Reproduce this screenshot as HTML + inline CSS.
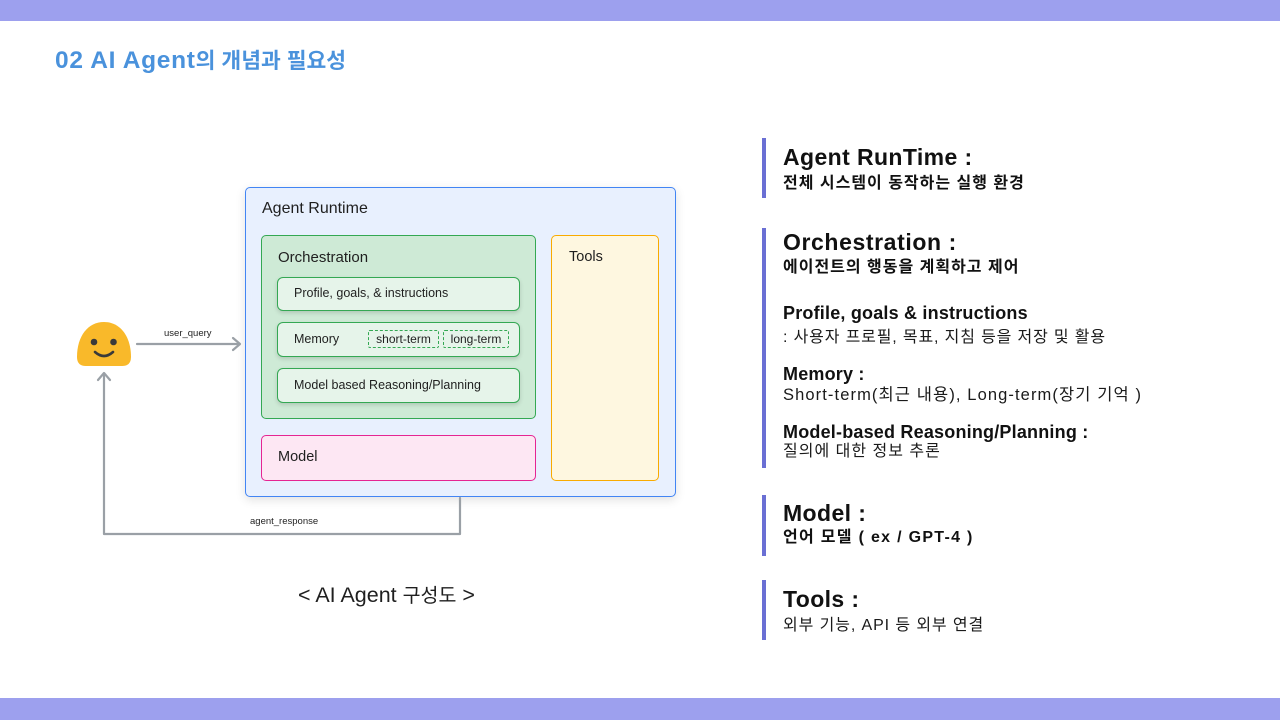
<!DOCTYPE html>
<html>
<head>
<meta charset="utf-8">
<style>
  html, body { margin:0; padding:0; }
  body { width:1280px; height:720px; position:relative; overflow:hidden; background:#ffffff;
         font-family:"Liberation Sans","Noto Sans CJK KR",sans-serif; }
  .abs { position:absolute; white-space:nowrap; line-height:1; }
  .box { position:absolute; box-sizing:border-box; }
  .bar { position:absolute; left:762px; width:4px; background:#6a6fd4; }
  .h1 { font-size:23px; font-weight:bold; letter-spacing:0.4px; color:#111; left:783px; }
  .sb { font-size:16px; font-weight:bold; color:#111; left:783px; letter-spacing:1px; }
  .h2 { font-size:18px; font-weight:bold; letter-spacing:0.2px; color:#111; left:783px; }
  .rg { font-size:16px; color:#1a1a1a; left:783px; letter-spacing:0.85px; }
  .dl { color:#1f1f1f; }
</style>
</head>
<body>
  <!-- top & bottom bars -->
  <div class="box" style="left:0;top:0;width:1280px;height:21px;background:#9da0ee;"></div>
  <div class="box" style="left:0;top:698px;width:1280px;height:22px;background:#9da0ee;"></div>

  <!-- title -->
  <div class="abs" style="left:55px;top:49px;font-size:21.5px;font-weight:bold;color:#4a92dc;"><span style="font-size:24.5px;letter-spacing:0.7px;">02 AI Agent</span>의 개념과 필요성</div>

  <!-- Diagram -->
  <div class="box" style="left:245px;top:187px;width:431px;height:310px;background:#e8f0fe;border:1.5px solid #4285f4;border-radius:5px;box-shadow:0 3px 10px rgba(0,0,0,0.12);"></div>
  <div class="abs dl" style="left:262px;top:201px;font-size:16px;">Agent Runtime</div>

  <div class="box" style="left:261px;top:235px;width:275px;height:184px;background:#ceead6;border:1.5px solid #34a853;border-radius:5px;"></div>
  <div class="abs dl" style="left:278px;top:250px;font-size:15px;">Orchestration</div>

  <div class="box" style="left:277px;top:277px;width:243px;height:34px;background:#e6f4ea;border:1.5px solid #34a853;border-radius:6px;box-shadow:0 2px 4px rgba(0,0,0,0.15);"></div>
  <div class="abs dl" style="left:294px;top:287px;font-size:12.5px;">Profile, goals, &amp; instructions</div>

  <div class="box" style="left:277px;top:322px;width:243px;height:35px;background:#e6f4ea;border:1.5px solid #34a853;border-radius:6px;box-shadow:0 2px 4px rgba(0,0,0,0.15);"></div>
  <div class="abs dl" style="left:294px;top:333px;font-size:12.5px;">Memory</div>
  <div class="box" style="left:368px;top:330px;width:71px;height:18px;border:1px dashed #34a853;border-radius:2px;"></div>
  <div class="abs dl" style="left:368px;top:333px;width:71px;text-align:center;font-size:12px;">short-term</div>
  <div class="box" style="left:443px;top:330px;width:66px;height:18px;border:1px dashed #34a853;border-radius:2px;"></div>
  <div class="abs dl" style="left:443px;top:333px;width:66px;text-align:center;font-size:12px;">long-term</div>

  <div class="box" style="left:277px;top:368px;width:243px;height:35px;background:#e6f4ea;border:1.5px solid #34a853;border-radius:6px;box-shadow:0 2px 4px rgba(0,0,0,0.15);"></div>
  <div class="abs dl" style="left:294px;top:379px;font-size:12.5px;">Model based Reasoning/Planning</div>

  <div class="box" style="left:261px;top:435px;width:275px;height:46px;background:#fde7f3;border:1.5px solid #e52592;border-radius:5px;"></div>
  <div class="abs dl" style="left:278px;top:450px;font-size:14.5px;">Model</div>

  <div class="box" style="left:551px;top:235px;width:108px;height:246px;background:#fef7e0;border:1.5px solid #f9ab00;border-radius:5px;"></div>
  <div class="abs dl" style="left:569px;top:250px;font-size:14.5px;">Tools</div>

  <!-- connectors and face -->
  <svg style="position:absolute;left:0;top:0;" width="1280" height="720" viewBox="0 0 1280 720">
    <g fill="none" stroke="#9aa0a6" stroke-width="2.2" stroke-linecap="round" stroke-linejoin="round">
      <line x1="137" y1="344" x2="239" y2="344"/>
      <polyline points="233,338 240,344 233,350"/>
      <polyline points="460,498 460,534 104,534 104,374"/>
      <polyline points="98,380 104,373 110,380"/>
    </g>
    <path d="M77,357 C77,336 88,322 104,322 C120,322 131,336 131,357 Q131,366 122,366 L86,366 Q77,366 77,357 Z" fill="#f9b92a"/>
    <circle cx="94" cy="342" r="3.3" fill="#3a3a3a"/>
    <circle cx="113.5" cy="342" r="3.3" fill="#3a3a3a"/>
    <path d="M95,352 Q104,360 113,352" fill="none" stroke="#3a3a3a" stroke-width="2.6" stroke-linecap="round"/>
  </svg>
  <div class="abs dl" style="left:164px;top:329px;font-size:9.5px;">user_query</div>
  <div class="abs dl" style="left:250px;top:517px;font-size:9.5px;">agent_response</div>

  <div class="abs" style="left:298px;top:585px;font-size:19.5px;color:#1f1f1f;"><span style="font-size:21.5px;">&lt; AI Agent </span>구성도<span style="font-size:21.5px;"> &gt;</span></div>

  <!-- Right side -->
  <div class="bar" style="top:138px;height:60px;"></div>
  <div class="bar" style="top:228px;height:240px;"></div>
  <div class="bar" style="top:495px;height:61px;"></div>
  <div class="bar" style="top:580px;height:60px;"></div>

  <div class="abs h1" style="top:145.5px;">Agent RunTime :</div>
  <div class="abs sb" style="top:176px;">전체 시스템이 동작하는 실행 환경</div>

  <div class="abs h1" style="top:231px;letter-spacing:0.6px;">Orchestration :</div>
  <div class="abs sb" style="top:259.5px;">에이전트의 행동을 계획하고 제어</div>

  <div class="abs h2" style="top:304px;">Profile, goals &amp; instructions</div>
  <div class="abs rg" style="top:329.5px;">: 사용자 프로필, 목표, 지침 등을 저장 및 활용</div>

  <div class="abs h2" style="top:364.5px;">Memory :</div>
  <div class="abs rg" style="top:386.5px;font-size:16.5px;letter-spacing:1.1px;">Short-term(최근 내용), Long-term(장기 기억 )</div>

  <div class="abs h2" style="top:422.5px;">Model-based Reasoning/Planning :</div>
  <div class="abs rg" style="top:444px;letter-spacing:1px;">질의에 대한 정보 추론</div>

  <div class="abs h1" style="top:502px;">Model :</div>
  <div class="abs sb" style="top:529.5px;letter-spacing:1.3px;">언어 모델 ( ex / GPT-4 )</div>

  <div class="abs h1" style="top:587.5px;">Tools :</div>
  <div class="abs rg" style="top:618px;letter-spacing:0.9px;">외부 기능, API 등 외부 연결</div>
</body>
</html>
